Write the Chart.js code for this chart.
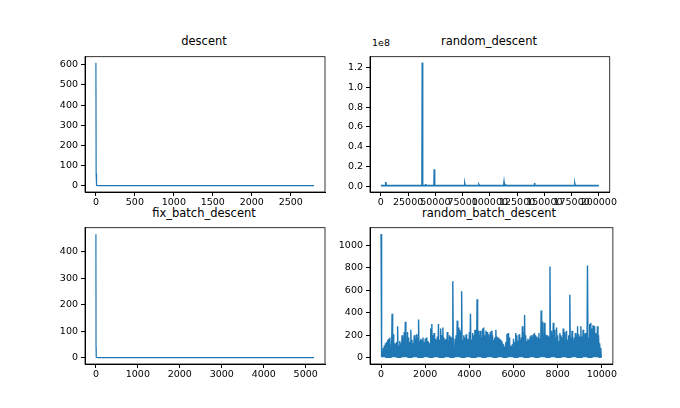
<!DOCTYPE html>
<html><head><meta charset="utf-8">
<script src="https://cdn.jsdelivr.net/npm/chart.js@4"></script>
<style>
body{margin:0;background:#fff;width:680px;height:408px;position:relative;font-family:"DejaVu Sans",sans-serif;overflow:hidden}
canvas{position:absolute}
.t{position:absolute;font-size:11.5px;color:#000;text-align:center;width:240px}
</style></head><body>
<div class="t" style="left:84px;top:34px">descent</div>
<div class="t" style="left:369px;top:34px">random_descent</div>
<div class="t" style="left:84px;top:206px">fix_batch_descent</div>
<div class="t" style="left:369px;top:206px">random_batch_descent</div>
<div style="position:absolute;left:372px;top:37px;font-size:9.5px">1e8</div>
<div style="position:absolute;left:30px;top:48px;width:296px;height:165px"><canvas id="c1"></canvas></div>
<div style="position:absolute;left:315px;top:48px;width:303px;height:165px"><canvas id="c2"></canvas></div>
<div style="position:absolute;left:30px;top:219px;width:296px;height:166px"><canvas id="c3"></canvas></div>
<div style="position:absolute;left:315px;top:219px;width:303px;height:166px"><canvas id="c4"></canvas></div>
<script>
// descent
const descentX=[0,3,6,10,50,2800];
const descentY=[610,60,10,3,2,2];
const descentXTicks=[0,500,1000,1500,2000,2500];
const descentYTicks=[0,100,200,300,400,500,600];
// random_descent (spikes on a ~5e5 baseline)
const rdBase=5e5;
const rdSpikeX=[4500,38000,41000,49000,77000,90000,113000,114500,141000,178000];
const rdSpikeY=[4e6,1.25e8,2e6,1.7e7,2e6,1.2e6,3.5e6,1.8e6,3e6,2e6];
const rdXTicks=[0,25000,50000,75000,100000,125000,150000,175000,200000];
const rdYTicks=[0,0.2e8,0.4e8,0.6e8,0.8e8,1.0e8,1.2e8];
// fix_batch_descent
const fbX=[0,3,6,10,50,5200];
const fbY=[465,40,8,2,1,1];
const fbXTicks=[0,1000,2000,3000,4000,5000];
const fbYTicks=[0,100,200,300,400];
// random_batch_descent: peak values every 50 iterations, with a low value between
const rbStep=50;
const rbPeaks=[1100,60,90,110,130,140,160,170,180,120,390,210,130,120,140,280,110,150,130,200,
170,230,320,150,230,180,140,250,160,130,200,170,210,180,340,150,170,160,180,140,
170,180,150,140,130,260,300,200,220,170,150,190,300,160,260,200,270,180,160,170,
230,150,200,190,180,680,90,170,200,330,270,250,230,590,160,200,180,210,170,160,
230,390,160,220,200,250,250,520,240,200,240,180,260,270,200,240,230,210,180,230,
240,200,160,180,250,190,180,170,160,150,130,120,100,140,210,220,180,100,110,120,
170,140,220,200,150,210,160,180,280,230,380,200,150,170,160,190,200,180,210,220,
200,190,180,220,170,420,320,200,310,210,200,200,190,810,240,200,310,250,180,270,
200,150,220,200,180,260,230,150,240,160,200,560,180,240,160,180,220,200,280,210,
190,280,190,250,210,220,200,820,180,300,310,260,290,280,220,200,280,200,130,90];
const rbLow=5;
const rbXTicks=[0,2000,4000,6000,8000,10000];
const rbYTicks=[0,200,400,600,800,1000];

const boxPlugin={id:'box',afterDraw(c){const a=c.chartArea,x=c.ctx;x.save();x.strokeStyle='#000';x.lineWidth=0.8;x.strokeRect(a.left,a.top,a.right-a.left,a.bottom-a.top);x.restore();}};
const font={family:'DejaVu Sans',size:9.5};
function mk(id,pts,xmin,xmax,xt,ymin,ymax,yt,yfmt,bw){
  new Chart(document.getElementById(id),{type:'line',
    data:{datasets:[{data:pts,borderColor:'#1f77b4',borderWidth:bw||1.2,pointRadius:0,tension:0,fill:false}]},
    options:{responsive:true,maintainAspectRatio:false,animation:false,
      layout:{padding:{top:1,right:1,left:0,bottom:0}},
      plugins:{legend:{display:false},tooltip:{enabled:false}},
      scales:{
        x:{type:'linear',min:xmin,max:xmax,afterBuildTicks:a=>{a.ticks=xt.map(v=>({value:v}));},
          afterFit:a=>{a.height=21;},
          grid:{drawOnChartArea:false,tickLength:4,color:'#000'},border:{color:'#000'},
          ticks:{color:'#000',font,maxRotation:0,autoSkip:false,padding:1,callback:v=>String(v)}},
        y:{type:'linear',min:ymin,max:ymax,afterBuildTicks:a=>{a.ticks=yt.map(v=>({value:v}));},
          afterFit:a=>{a.width=55;},
          grid:{drawOnChartArea:false,tickLength:4,color:'#000'},border:{color:'#000'},
          ticks:{color:'#000',font,autoSkip:false,padding:3,callback:yfmt||(v=>String(v))}}
      }},plugins:[boxPlugin]});
}
mk('c1',descentX.map((x,i)=>({x,y:descentY[i]})),-140,2940,descentXTicks,-30,640,descentYTicks);
const rdPts=[{x:0,y:rdBase}];
rdSpikeX.forEach((x,i)=>{rdPts.push({x:x-300,y:rdBase},{x,y:rdSpikeY[i]},{x:x+300,y:rdBase});});
rdPts.push({x:200000,y:rdBase});
mk('c2',rdPts,-10000,210000,rdXTicks,-0.06e8,1.31e8,rdYTicks,v=>(v/1e8).toFixed(1),1.6);
mk('c3',fbX.map((x,i)=>({x,y:fbY[i]})),-260,5460,fbXTicks,-23,490,fbYTicks);
const rbPts=[];rbPeaks.forEach((p,i)=>{rbPts.push({x:i*rbStep,y:p});rbPts.push({x:i*rbStep+rbStep/2,y:rbLow});});
rbPts.push({x:10000,y:rbLow});
mk('c4',rbPts,-500,10500,rbXTicks,-55,1155,rbYTicks,null,1.4);
</script></body></html>
